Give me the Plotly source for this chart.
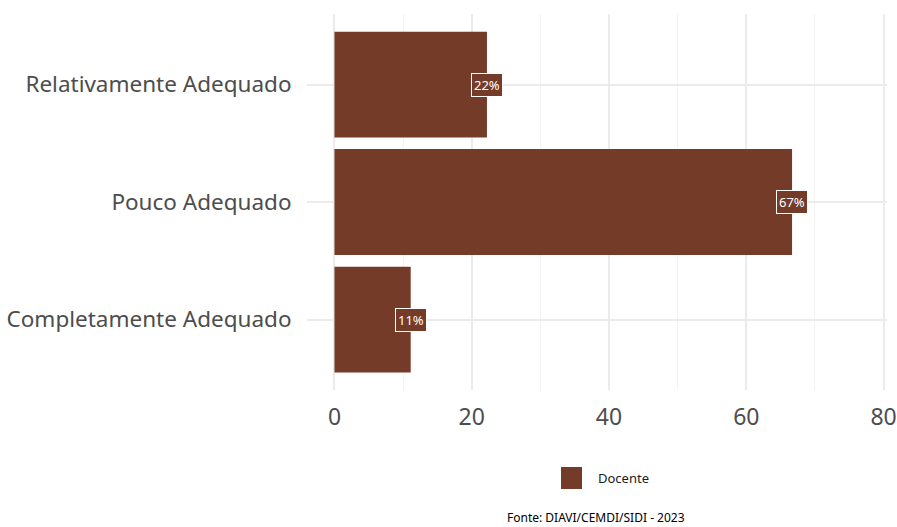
import plotly.graph_objects as go

categories = ["Completamente Adequado", "Pouco Adequado", "Relativamente Adequado"]
values = [11.11, 66.67, 22.22]
labels = ["11%", "67%", "22%"]
series_name = "Docente"
x_ticks = [0, 20, 40, 60, 80]
caption = "Fonte: DIAVI/CEMDI/SIDI - 2023"

BAR = "#753B29"
FONT = "Noto Sans"

fig = go.Figure()
fig.add_trace(go.Bar(
    y=categories, x=values, orientation="h", marker=dict(color=BAR, line=dict(width=0)),
    width=0.9, name=series_name, showlegend=False, hoverinfo="skip",
))

for c, v, t in zip(categories, values, labels):
    fig.add_annotation(x=v, y=c, text=t, showarrow=False,
                       font=dict(family=FONT, size=13, color="white"),
                       bgcolor=BAR, bordercolor="white", borderwidth=1, borderpad=2,
                       xanchor="center", yanchor="middle")

# legend (manual key)
fig.add_shape(type="rect", xref="paper", yref="paper",
              x0=(561-307)/580, x1=(582-307)/580, y0=-(467-390)/376, y1=-(489-390)/376,
              fillcolor=BAR, line=dict(width=0))
fig.add_annotation(xref="paper", yref="paper", x=(596-307)/580, y=-(478-390)/376,
                   text=series_name, showarrow=False, xanchor="left", yanchor="middle",
                   font=dict(family=FONT, size=13, color="#1a1a1a"))
fig.add_annotation(xref="paper", yref="paper", x=(596-307)/580, y=-(517-390)/376,
                   text=caption, showarrow=False, xanchor="center", yanchor="middle",
                   font=dict(family=FONT, size=12, color="black"))

fig.update_layout(
    width=897, height=527,
    margin=dict(l=307, r=10, t=14, b=137),
    paper_bgcolor="white", plot_bgcolor="white",
    font=dict(family=FONT),
    bargap=0.1,
    xaxis=dict(range=[-4, 80.5], tickvals=x_ticks, showgrid=True, gridcolor="#ebebeb", gridwidth=1.5,
               zeroline=False, showline=False, automargin=False,
               minor=dict(dtick=10, tick0=0, showgrid=True, gridcolor="#f3f3f3", gridwidth=1),
               ticks="outside", ticklen=6, tickcolor="rgba(0,0,0,0)",
               tickfont=dict(family=FONT, size=23, color="#4d4d4d")),
    yaxis=dict(categoryorder="array", categoryarray=categories, range=[-0.6, 2.6],
               showgrid=True, gridcolor="#ebebeb", gridwidth=1.5, zeroline=False, showline=False,
               automargin=False,
               ticks="outside", ticklen=10, tickcolor="rgba(0,0,0,0)",
               tickfont=dict(family=FONT, size=22.5, color="#4d4d4d")),
)

fig.write_html("out.html", config={"displayModeBar": False},
               post_script="document.body.style.margin='0';document.body.style.overflow='hidden';")
